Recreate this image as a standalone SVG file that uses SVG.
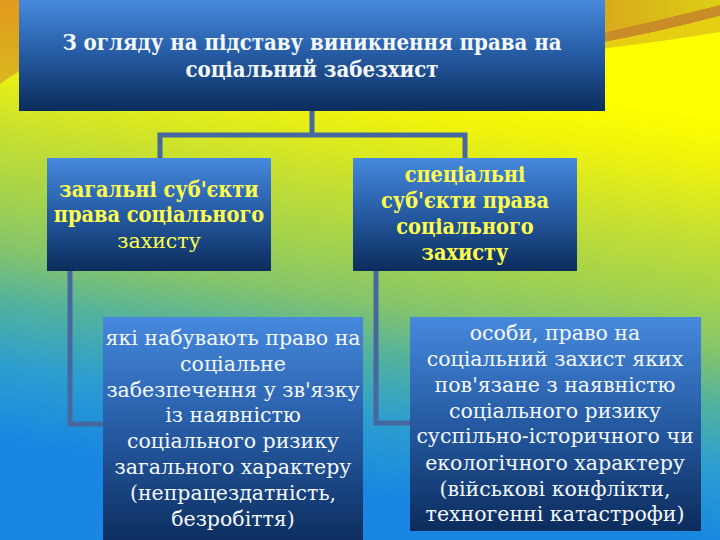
<svg xmlns="http://www.w3.org/2000/svg" width="720" height="540" viewBox="0 0 720 540">
<defs>
<linearGradient id="bg" gradientUnits="userSpaceOnUse" x1="600" y1="100" x2="540" y2="520">
<stop offset="0" stop-color="#ffff00"/>
<stop offset="0.1" stop-color="#f2f40a"/>
<stop offset="0.27" stop-color="#c8e030"/>
<stop offset="0.43" stop-color="#a2d24e"/>
<stop offset="0.55" stop-color="#84c46c"/>
<stop offset="0.67" stop-color="#52b29e"/>
<stop offset="0.82" stop-color="#2c9ed0"/>
<stop offset="1" stop-color="#1886e2"/>
</linearGradient>
<linearGradient id="box" x1="0" y1="0" x2="0" y2="1">
<stop offset="0" stop-color="#4689dd"/>
<stop offset="0.5" stop-color="#255aa2"/>
<stop offset="1" stop-color="#0c2c5c"/>
</linearGradient>
<linearGradient id="tl" x1="0" y1="0" x2="0" y2="1">
<stop offset="0" stop-color="#e39a1e"/>
<stop offset="1" stop-color="#d8b820"/>
</linearGradient>
<linearGradient id="tr" x1="0" y1="0" x2="1" y2="0">
<stop offset="0" stop-color="#d8a81c"/>
<stop offset="1" stop-color="#dcd014"/>
</linearGradient>
</defs>
<style>
.box{fill:url(#box);}
.conn{fill:none;stroke:#46689e;stroke-width:5;}
.t{text-anchor:middle;font-family:"DejaVu Serif Condensed","DejaVu Serif",serif;}
.r{text-anchor:middle;font-family:"DejaVu Serif","DejaVu Serif Condensed",serif;}
.w{fill:#f4f8ff;}
.y{fill:#ffff4d;}
.b{font-weight:bold;}
</style>
<rect x="0" y="0" width="720" height="540" fill="url(#bg)"/>
<path d="M0,0 H40 V62 Q18,70 0,84 Z" fill="url(#tl)"/>
<path d="M600,0 H720 V5 Q660,20 600,33 Z" fill="url(#tr)"/>
<path d="M600,33 Q660,20 720,5 V16 Q660,32 600,43 Z" fill="#c98c26"/>
<path d="M600,43 Q660,32 720,16 V32 Q660,42 600,49 Z" fill="#e6cf12"/>
<g id="connectors">
<path class="conn" d="M312,111 V135 M160,158 V135 H465 V158"/>
<path class="conn" d="M70,271 V424 H103"/>
<path class="conn" d="M376,271 V423 H410"/>
</g>
<g id="root">
<rect class="box" x="19" y="0" width="586" height="111"/>
<text class="t w b" font-size="22"><tspan x="312" y="50">З огляду на підставу виникнення права на</tspan><tspan x="312" y="77">соціальний забезхист</tspan></text>
</g>
<g id="general">
<rect class="box" x="47" y="158" width="224" height="113"/>
<text class="t y b" font-size="21.5"><tspan x="159" y="197">загальні суб'єкти</tspan><tspan x="159" y="222">права соціального</tspan></text>
<text class="r y" font-size="20.5" x="159" y="248">захисту</text>
</g>
<g id="special">
<rect class="box" x="353" y="158" width="224" height="113"/>
<text class="t y b" font-size="21.5"><tspan x="465" y="182">спеціальні</tspan><tspan x="465" y="208">суб'єкти права</tspan><tspan x="465" y="234">соціального</tspan><tspan x="465" y="260">захисту</tspan></text>
</g>
<g id="general-desc">
<rect class="box" x="103" y="317" width="260" height="230"/>
<text class="r w" font-size="20.5"><tspan x="233" y="345">які набувають право на</tspan><tspan x="233" y="371">соціальне</tspan><tspan x="233" y="397">забезпечення у зв'язку</tspan><tspan x="233" y="422">із наявністю</tspan><tspan x="233" y="448">соціального ризику</tspan><tspan x="233" y="474">загального характеру</tspan><tspan x="233" y="500">(непрацездатність,</tspan><tspan x="233" y="526">безробіття)</tspan></text>
</g>
<g id="special-desc">
<rect class="box" x="410" y="317" width="291" height="214"/>
<text class="r w" font-size="20.5"><tspan x="555" y="340">особи, право на</tspan><tspan x="555" y="366">соціальний захист яких</tspan><tspan x="555" y="392">пов'язане з наявністю</tspan><tspan x="555" y="418">соціального ризику</tspan><tspan x="555" y="443">суспільно-історичного чи</tspan><tspan x="555" y="470">екологічного характеру</tspan><tspan x="555" y="496">(військові конфлікти,</tspan><tspan x="555" y="521">техногенні катастрофи)</tspan></text>
</g>
</svg>
